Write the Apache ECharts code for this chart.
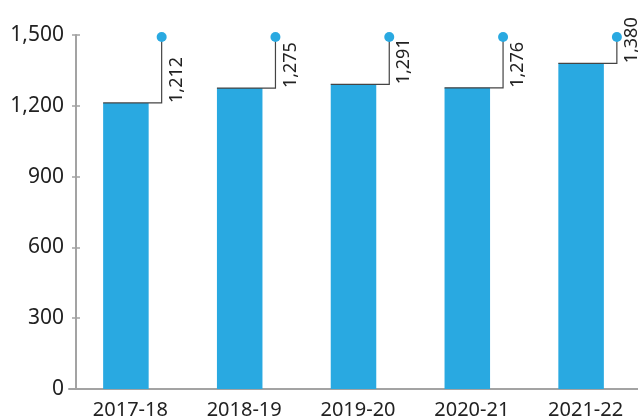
<!DOCTYPE html>
<html>
<head>
<meta charset="utf-8">
<script src="https://cdn.jsdelivr.net/npm/echarts@6/dist/echarts.min.js"></script>
<style>
  html, body { margin: 0; padding: 0; background: #fff; }
  #main { width: 638px; height: 420px; }
</style>
</head>
<body>
<div id="main"></div>
<script>
// chart data
const years = ['2017-18', '2018-19', '2019-20', '2020-21', '2021-22'];
const values = [1212, 1275, 1291, 1276, 1380];
const yTicks = [0, 300, 600, 900, 1200, 1500];

const barColor = '#29a9e1';
const fontFamily = '"Noto Sans", sans-serif';

let myChart = echarts.init(document.getElementById('main'));

// leader line from the bar top up to a dot at the axis max, with a rotated label
function renderLeader(params, api) {
    let idx = api.value(0);
    let val = api.value(1);
    let top = api.coord([idx, val]);
    let peak = api.coord([idx, yTicks[yTicks.length - 1]]);
    let bandW = api.size([1, 0])[0];
    let barW = bandW * 0.4;
    let left = top[0] - barW / 2;
    let lx = top[0] + barW / 2 + 13;
    return {
        type: 'group',
        children: [
            {
                type: 'polyline',
                shape: { points: [[left, top[1]], [lx, top[1]], [lx, peak[1] + 2]] },
                style: { stroke: '#444', lineWidth: 1.2, fill: null }
            },
            {
                type: 'circle',
                shape: { cx: lx, cy: peak[1] + 2, r: 5 },
                style: { fill: barColor }
            },
            {
                type: 'text',
                x: lx + 15,
                y: top[1],
                rotation: Math.PI / 2,
                style: {
                    text: echarts.format.addCommas(val),
                    font: '18px ' + fontFamily,
                    fill: '#222',
                    align: 'left',
                    verticalAlign: 'middle'
                }
            }
        ]
    };
}

let option = {
    animation: false,
    grid: {
        left: 69,
        top: 35,
        width: 570,
        bottom: 31
    },
    xAxis: {
        type: 'category',
        data: years,
        axisLine: { lineStyle: { color: '#a3a3a3', width: 2 } },
        axisTick: { show: false },
        axisLabel: {
            color: '#222',
            fontSize: 20,
            fontFamily: fontFamily,
            margin: 11,
            padding: [0, 0, 0, 9]
        }
    },
    yAxis: [
        {
            type: 'value',
            min: yTicks[0],
            max: yTicks[yTicks.length - 1],
            interval: 300,
            offset: -7,
            splitLine: { show: false },
            axisLine: { show: true, lineStyle: { color: '#a3a3a3', width: 2 } },
            axisTick: { show: true, length: 4, lineStyle: { color: '#a3a3a3', width: 1.5 } },
            axisLabel: {
                color: '#222',
                fontSize: 21,
                fontFamily: fontFamily,
                margin: 12,
                formatter: function (v) { return echarts.format.addCommas(v); }
            }
        },
        {
            // inner half of the ticks
            type: 'value',
            position: 'left',
            min: yTicks[0],
            max: yTicks[yTicks.length - 1],
            interval: 300,
            offset: -7,
            splitLine: { show: false },
            axisLine: { show: false },
            axisTick: { show: true, inside: true, length: 4, lineStyle: { color: '#a3a3a3', width: 1.5 } },
            axisLabel: { show: false }
        }
    ],
    series: [
        {
            type: 'bar',
            data: values,
            barWidth: '40%',
            itemStyle: { color: barColor },
            z: 1
        },
        {
            type: 'custom',
            renderItem: renderLeader,
            data: values.map(function (v, i) { return [i, v]; }),
            encode: { x: 0, y: 1 },
            clip: false,
            z: 3
        }
    ]
};

myChart.setOption(option);
</script>
</body>
</html>
